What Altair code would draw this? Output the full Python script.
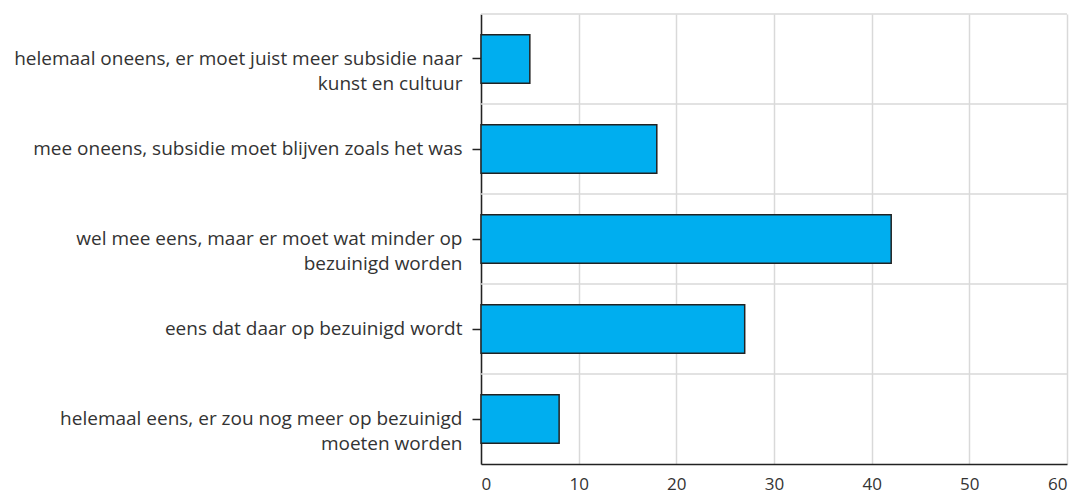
import altair as alt
import pandas as pd

categories = [
    "helemaal oneens, er moet juist meer subsidie naar|kunst en cultuur",
    "mee oneens, subsidie moet blijven zoals het was",
    "wel mee eens, maar er moet wat minder op|bezuinigd worden",
    "eens dat daar op bezuinigd wordt",
    "helemaal eens, er zou nog meer op bezuinigd|moeten worden",
]
values = [5, 18, 42, 27, 8]
x_ticks = [0, 10, 20, 30, 40, 50, 60]

df = pd.DataFrame({"cat": categories, "val": values})

FONT = "Open Sans"
W, H = 586, 450
P_IN = 0.46
P_OUT = P_IN / 2
STEP = H / (len(categories) - P_IN + 2 * P_OUT)

yscale = alt.Scale(domain=categories, paddingInner=P_IN, paddingOuter=P_OUT)
y_axis = alt.Axis(
    labelExpr="split(datum.label, '|')",
    labelFont=FONT,
    labelFontSize=19,
    labelColor="#333333",
    labelLineHeight=25,
    labelPadding=10,
    labelLimit=700,
    tickSize=9,
    tickColor="#222222",
    tickWidth=1.5,
    domainColor="#222222",
    domainWidth=1.5,
    grid=False,
)

y_enc = alt.Y("cat:N", scale=yscale, sort=categories, title=None, axis=y_axis)

bars = alt.Chart(df).mark_bar(
    color="#00AEEF", stroke="#222222", strokeWidth=1.5
).encode(
    y=y_enc,
    x=alt.X(
        "val:Q",
        scale=alt.Scale(domain=[0, 60], nice=False),
        title=None,
        axis=alt.Axis(
            values=x_ticks,
            labelFont=FONT,
            labelFontSize=17,
            labelColor="#333333",
            labelPadding=12,
            ticks=False,
            grid=True,
            gridColor="#d9d9d9",
            gridWidth=1.5,
            domainColor="#222222",
            domainWidth=1.5,
        ),
    ),
)

rules = alt.Chart(df).mark_rule(color="#d9d9d9", strokeWidth=1.5).encode(
    y=y_enc,
    yOffset=alt.value(-P_IN * STEP / 2),
    x=alt.value(0),
    x2=alt.value(W),
)

chart = alt.layer(rules, bars).properties(width=W, height=H).configure_view(
    stroke=None
)

chart.save("out.html", embed_options={"renderer": "svg", "actions": False})
